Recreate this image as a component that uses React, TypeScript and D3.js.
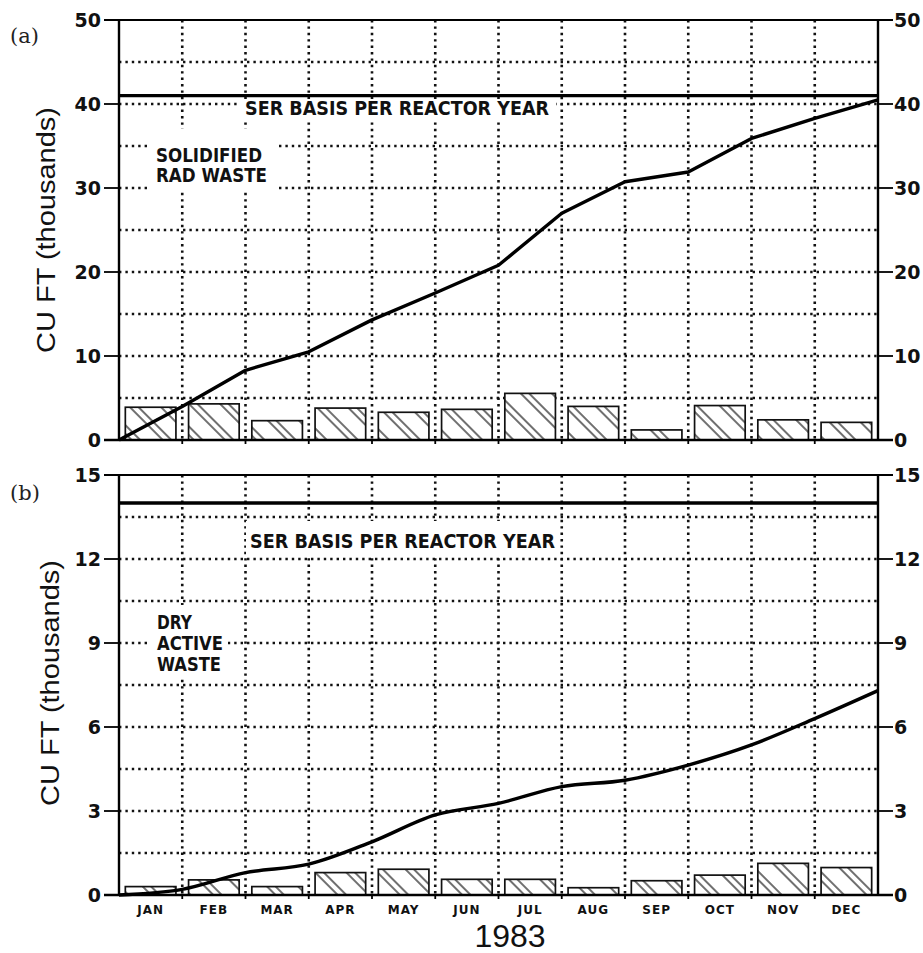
import React from "react";
import * as d3 from "d3";

const months = ["JAN", "FEB", "MAR", "APR", "MAY", "JUN", "JUL", "AUG", "SEP", "OCT", "NOV", "DEC"];

// Panel (a): solidified rad waste (thousands cu ft)
const barsA = [3.9, 4.3, 2.3, 3.8, 3.3, 3.65, 5.55, 4.0, 1.2, 4.1, 2.4, 2.1];
const cumA = [0, 4.0, 8.3, 10.5, 14.3, 17.5, 20.8, 27.0, 30.75, 31.9, 35.9, 38.3, 40.5];
const serA = 41;
const ticksA = [0, 10, 20, 30, 40, 50];
const gridA = [5, 10, 15, 20, 25, 30, 35, 40, 45];

// Panel (b): dry active waste (thousands cu ft)
const barsB = [0.3, 0.54, 0.3, 0.8, 0.92, 0.56, 0.56, 0.26, 0.51, 0.71, 1.13, 0.98];
const cumB = [0, 0.2, 0.8, 1.1, 1.9, 2.86, 3.27, 3.87, 4.1, 4.64, 5.36, 6.3, 7.3];
const serB = 14;
const ticksB = [0, 3, 6, 9, 12, 15];
const gridB = [1.5, 3, 4.5, 6, 7.5, 9, 10.5, 12, 13.5];

const serText = "SER BASIS PER REACTOR YEAR";
const typeA = ["SOLIDIFIED", "RAD WASTE"];
const typeB = ["DRY", "ACTIVE", "WASTE"];
const yearLabel = "1983";
const yLabel = "CU FT (thousands)";

const X0 = 119;
const X1 = 878;

const xBand = d3.scaleBand<string>().domain(months).range([X0, X1]).paddingInner(0.2).paddingOuter(0.1);
const xLin = d3.scaleLinear().domain([0, 12]).range([X0, X1]);

const labelFont = "'DejaVu Sans', 'Liberation Sans', sans-serif";
const tickFont = "'Liberation Sans', Arial, sans-serif";

type Box = { x: number; y: number; w: number; h: number };

function Panel(props: {
  top: number;
  bottom: number;
  yMax: number;
  ticks: number[];
  grid: number[];
  bars: number[];
  cum: number[];
  ser: number;
  serPos: { x: number; y: number; len: number };
  serBox: Box;
  typeLines: string[];
  typePos: { x: number; y: number; dy: number; len: number[] };
  typeBox: Box;
  letter: string;
  letterY: number;
  yLabelPos: { x: number; y: number };
  smooth: boolean;
  showMonths: boolean;
}) {
  const y = d3.scaleLinear().domain([0, props.yMax]).range([props.bottom, props.top]);
  const line = d3
    .line<number>()
    .x((_, i) => xLin(i))
    .y((d) => y(d))
    .curve(props.smooth ? d3.curveMonotoneX : d3.curveLinear);
  const dotted = { stroke: "#111", strokeWidth: 2.6, strokeDasharray: "2.4 4", fill: "none" } as const;
  return (
    <g>
      {props.grid.map((g) => (
        <line key={"h" + g} x1={X0} x2={X1} y1={y(g)} y2={y(g)} {...dotted} />
      ))}
      {d3.range(1, 12).map((i) => (
        <line key={"v" + i} x1={xLin(i)} x2={xLin(i)} y1={props.top} y2={props.bottom} {...dotted} />
      ))}
      <rect x={props.serBox.x} y={props.serBox.y} width={props.serBox.w} height={props.serBox.h} fill="#fff" />
      <rect x={props.typeBox.x} y={props.typeBox.y} width={props.typeBox.w} height={props.typeBox.h} fill="#fff" />
      {props.bars.map((v, i) => (
        <g key={"b" + i}>
          <rect x={xBand(months[i])!} y={y(v)} width={xBand.bandwidth()} height={props.bottom - y(v)} fill="#fff" />
          <rect
            x={xBand(months[i])!}
            y={y(v)}
            width={xBand.bandwidth()}
            height={props.bottom - y(v)}
            fill="url(#hatch)"
            stroke="#111"
            strokeWidth={1.7}
          />
        </g>
      ))}
      <path d={line(props.cum)!} fill="none" stroke="#000" strokeWidth={3.4} strokeLinejoin="round" />
      <line x1={X0} x2={X1} y1={y(props.ser)} y2={y(props.ser)} stroke="#000" strokeWidth={3.4} />
      <line x1={X0 - 15} x2={X1 + 15} y1={props.top} y2={props.top} stroke="#000" strokeWidth={1.8} />
      <line x1={X0 - 15} x2={X1 + 15} y1={props.bottom} y2={props.bottom} stroke="#000" strokeWidth={2.4} />
      <line x1={X0} x2={X0} y1={props.top} y2={props.bottom} stroke="#000" strokeWidth={2.4} />
      <line x1={X1} x2={X1} y1={props.top} y2={props.bottom} stroke="#000" strokeWidth={2.4} />
      {props.ticks.map((t) => (
        <g key={"t" + t}>
          <line x1={X0 - 15} x2={X0} y1={y(t)} y2={y(t)} stroke="#000" strokeWidth={1.8} />
          <line x1={X1} x2={X1 + 15} y1={y(t)} y2={y(t)} stroke="#000" strokeWidth={1.8} />
          <text x={X0 - 18} y={y(t) + 7} textAnchor="end" fontFamily={labelFont} fontWeight="bold" fontSize={19} fill="#111">
            {t}
          </text>
          <text x={X1 + 16} y={y(t) + 7} textAnchor="start" fontFamily={labelFont} fontWeight="bold" fontSize={19} fill="#111">
            {t}
          </text>
        </g>
      ))}
      {d3.range(1, 12).map((i) => (
        <line key={"xt" + i} x1={xLin(i)} x2={xLin(i)} y1={props.bottom} y2={props.bottom + 4} stroke="#000" strokeWidth={1.8} />
      ))}
      <text
        x={props.serPos.x}
        y={props.serPos.y}
        fontFamily={labelFont}
        fontWeight="bold"
        fontSize={19}
        textLength={props.serPos.len}
        lengthAdjust="spacingAndGlyphs"
        fill="#111"
      >
        {serText}
      </text>
      {props.typeLines.map((s, i) => (
        <text
          key={"ty" + i}
          x={props.typePos.x}
          y={props.typePos.y + i * props.typePos.dy}
          fontFamily={labelFont}
          fontWeight="bold"
          fontSize={19}
          textLength={props.typePos.len[i]}
          lengthAdjust="spacingAndGlyphs"
          fill="#111"
        >
          {s}
        </text>
      ))}
      <text x={10} y={props.letterY} fontFamily="'DejaVu Serif', serif" fontSize={21} fill="#222">
        {props.letter}
      </text>
      <text
        transform={`translate(${props.yLabelPos.x},${props.yLabelPos.y}) rotate(-90)`}
        textAnchor="middle"
        fontFamily={tickFont}
        fontSize={26}
        textLength={246}
        lengthAdjust="spacingAndGlyphs"
        fill="#111"
      >
        {yLabel}
      </text>
      {props.showMonths &&
        months.map((m) => (
          <text
            key={m}
            x={xBand(m)! + xBand.bandwidth() / 2}
            y={props.bottom + 19}
            textAnchor="middle"
            fontFamily={labelFont}
            fontWeight="bold"
            fontSize={12}
            letterSpacing={1}
            fill="#111"
          >
            {m}
          </text>
        ))}
    </g>
  );
}

export default function App() {
  return (
    <svg width={923} height={953} style={{ position: "absolute", left: 0, top: 0, background: "#fff" }}>
      <defs>
        <pattern id="hatch" patternUnits="userSpaceOnUse" width={22} height={22} patternTransform="rotate(-45)">
          <line x1={2} x2={2} y1={0} y2={22} stroke="#222" strokeWidth={1.3} />
          <line x1={8} x2={8} y1={0} y2={22} stroke="#222" strokeWidth={1.3} />
        </pattern>
      </defs>
      <rect width={923} height={953} fill="#fff" />
      <Panel
        top={20}
        bottom={440}
        yMax={50}
        ticks={ticksA}
        grid={gridA}
        bars={barsA}
        cum={cumA}
        ser={serA}
        serPos={{ x: 245, y: 115, len: 304 }}
        serBox={{ x: 240, y: 99, w: 316, h: 21 }}
        typeLines={typeA}
        typePos={{ x: 156, y: 162, dy: 20, len: [106, 111] }}
        typeBox={{ x: 148, y: 129, w: 127, h: 61 }}
        letter="(a)"
        letterY={43}
        yLabelPos={{ x: 55, y: 230 }}
        smooth={false}
        showMonths={false}
      />
      <Panel
        top={475}
        bottom={895}
        yMax={15}
        ticks={ticksB}
        grid={gridB}
        bars={barsB}
        cum={cumB}
        ser={serB}
        serPos={{ x: 250, y: 548, len: 305 }}
        serBox={{ x: 246, y: 521, w: 312, h: 34 }}
        typeLines={typeB}
        typePos={{ x: 157, y: 629, dy: 21, len: [35, 66, 64] }}
        typeBox={{ x: 150, y: 605, w: 78, h: 74 }}
        letter="(b)"
        letterY={500}
        yLabelPos={{ x: 59, y: 683 }}
        smooth={true}
        showMonths={true}
      />
      <text x={510} y={947} textAnchor="middle" fontFamily={tickFont} fontSize={32} fill="#111">
        {yearLabel}
      </text>
    </svg>
  );
}
